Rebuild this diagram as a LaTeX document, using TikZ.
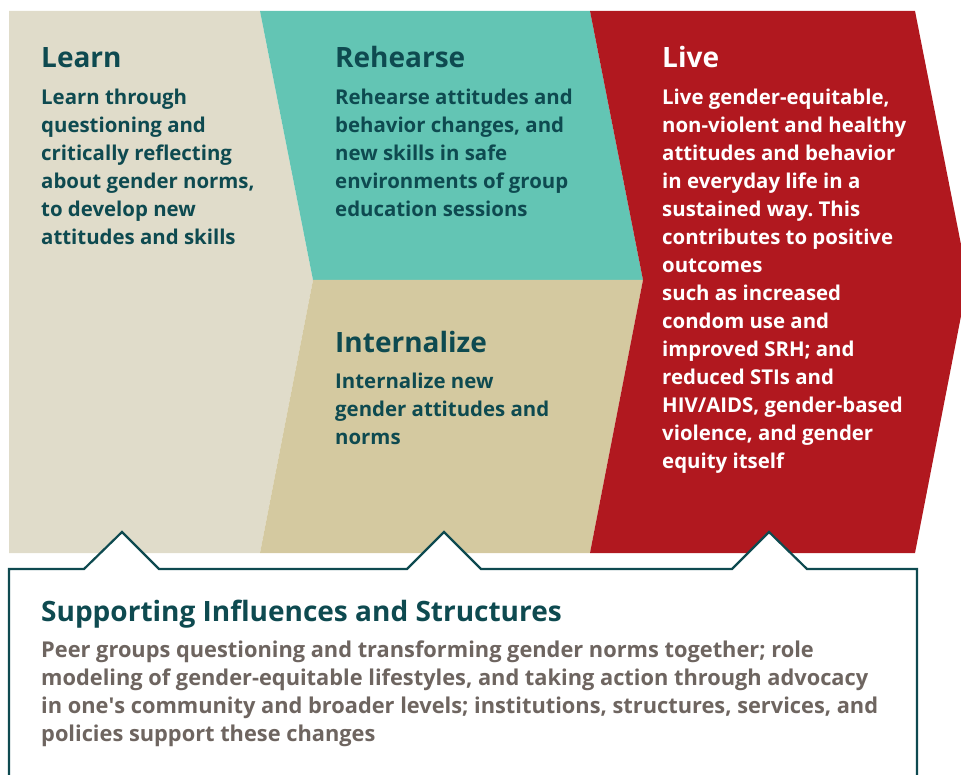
\documentclass[tikz,border=0pt]{standalone}
\usepackage{fontspec}
\usepackage{xcolor}
\usetikzlibrary{calc,positioning}
\setmainfont{Open Sans}
\IfFontExistsTF{Open Sans SemiBold}{\newfontfamily\semifont{Open Sans SemiBold}}{\newcommand\semifont{\bfseries}}
\frenchspacing

\definecolor{learnbg}{HTML}{E0DCCA}
\definecolor{rehearsebg}{HTML}{63C5B4}
\definecolor{internbg}{HTML}{D4C9A0}
\definecolor{livebg}{HTML}{B1181F}
\definecolor{ink}{HTML}{0E4A50}
\definecolor{greyink}{HTML}{6E6560}

\tikzset{
    head/.style={anchor=base west, inner sep=0pt, text=ink,
        font=\fontsize{28}{32}\selectfont\bfseries},
    body/.style={anchor=north west, inner sep=0pt, align=left, text=ink,
        font=\fontsize{20.4}{28}\selectfont\semifont},
}

\begin{document}
\begin{tikzpicture}[x=1pt, y=-1pt]
        \useasboundingbox (0, 0) rectangle (961, 775);
        \clip (0, 0) rectangle (961, 775);

        %%panels
        \fill[learnbg] (9, 11) -- (260, 11) -- (313, 280) -- (260, 553) -- (9, 553) -- cycle;
        \fill[rehearsebg] (260, 11) -- (590, 11) -- (643, 280) -- (313, 280) -- cycle;
        \fill[internbg] (313, 280) -- (643, 280) -- (590, 553) -- (260, 553) -- cycle;
        \fill[livebg] (590, 11) -- (915, 11) -- (968, 280) -- (915, 553) -- (590, 553) -- (643, 280) -- cycle;

        %%learn
        \node[head] (learnhead) at (41, 68){Learn};
        \node[body] (learntext) at (41, 89){Learn through\\questioning and\\critically reflecting\\about gender norms,\\to develop new\\attitudes and skills};

        %%rehearse
        \node[head] (rehearsehead) at (335, 68){Rehearse};
        \node[body] (rehearsetext) at (335, 89){Rehearse attitudes and\\behavior changes, and\\new skills in safe\\environments of group\\education sessions};

        %%internalize
        \node[head] (internhead) at (335, 353){Internalize};
        \node[body] (interntext) at (335, 373){Internalize new\\gender attitudes and\\norms};

        %%live
        \node[head, text=white] (livehead) at (662, 68){Live};
        \node[body, text=white] (livetext) at (662, 89){Live gender-equitable,\\non-violent and healthy\\attitudes and behavior\\in everyday life in a\\sustained way. This\\contributes to positive\\outcomes\\such as increased\\condom use and\\improved SRH; and\\reduced STIs and\\HIV/AIDS, gender-based\\violence, and gender\\equity itself};

        %%support box with its three peaks
        \draw[ink, line width=2.2, fill=white, line join=miter]
            (9, 569) -- (84, 569) -- (122, 532) -- (159, 569)
            -- (407, 569) -- (444, 532) -- (481, 569)
            -- (732, 569) -- (769, 532) -- (807, 569)
            -- (917, 569) -- (917, 790) -- (9, 790) -- cycle;

        \node[head] (supporthead) at (41, 621){Supporting Influences and Structures};
        \node[body, text=greyink, font=\fontsize{21.8}{28}\selectfont\semifont] (supporttext) at (41, 641){Peer groups questioning and transforming gender norms together; role\\modeling of gender-equitable lifestyles, and taking action through advocacy\\in one\textquotesingle s community and broader levels; institutions, structures, services, and\\policies support these changes};
\end{tikzpicture}
\end{document}
